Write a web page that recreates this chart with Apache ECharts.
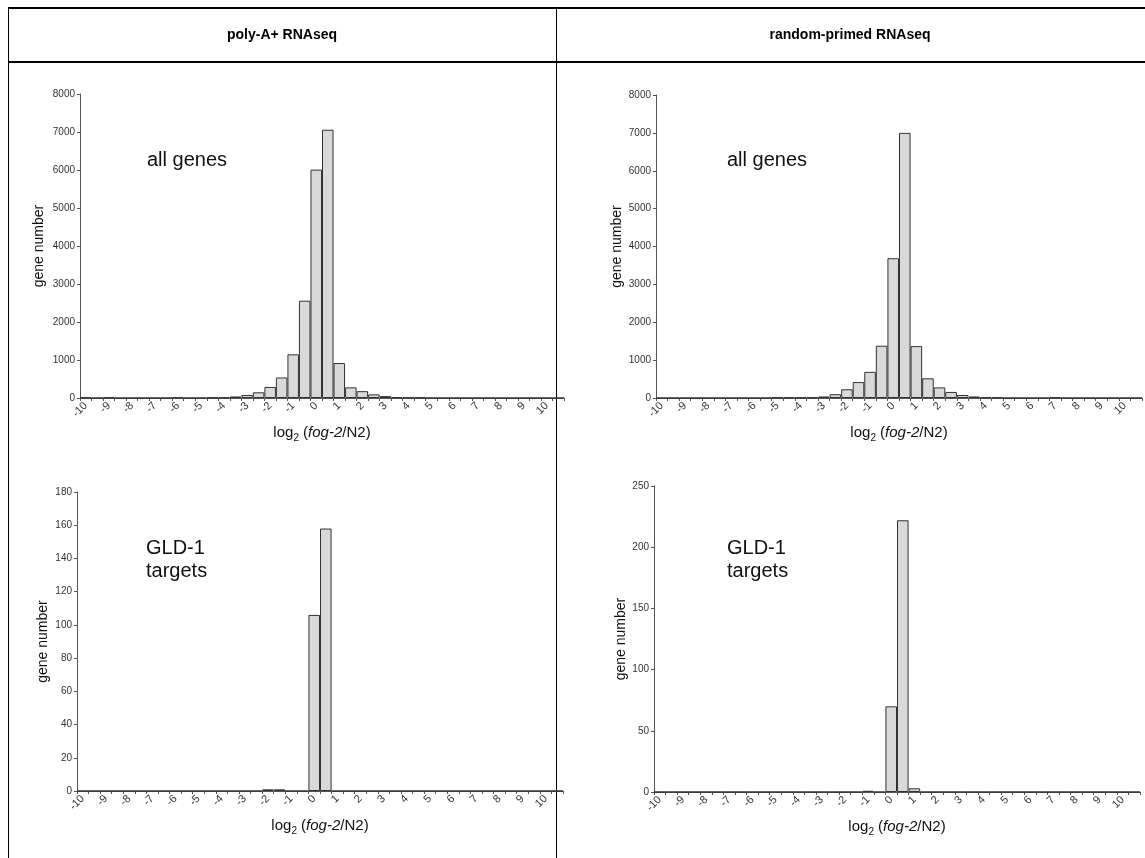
<!DOCTYPE html>
<html>
<head>
<meta charset="utf-8">
<script src="https://cdn.jsdelivr.net/npm/echarts@6/dist/echarts.min.js"></script>
<style>
html,body{margin:0;padding:0;background:#fff;}
#chart{width:1145px;height:858px;}
</style>
</head>
<body>
<div id="chart"></div>
<script>
// Histogram bins (Excel-style upper bin edges) + overflow bin
const binLabels = ['-10','-9.5','-9','-8.5','-8','-7.5','-7','-6.5','-6','-5.5','-5','-4.5','-4','-3.5','-3','-2.5','-2','-1.5','-1','-0.5','0','0.5','1','1.5','2','2.5','3','3.5','4','4.5','5','5.5','6','6.5','7','7.5','8','8.5','9','9.5','10','More'];

const polyAllGenes = [15,0,15,0,0,0,0,0,15,0,0,15,15,40,80,150,290,540,1150,2560,6010,7060,920,280,180,95,50,20,15,15,0,0,0,0,0,0,0,0,0,0,0,0];
const randomAllGenes = [0,0,0,0,0,0,0,0,0,0,15,15,15,15,40,100,230,420,690,1380,3690,7000,1370,520,280,160,80,40,20,15,0,0,0,0,20,0,0,0,0,0,0,0];
const polyGld1 = [0,0,0,0,0,0,0,0,0,0,0,0,0,0,0,0,1,1,0,0,106,158,0,0,0,0,0,0,0,0,0,0,0,0,0,0,0,0,0,0,0,0];
const randomGld1 = [0,0,0,0,0,0,0,0,0,0,0,0,0,0,0,0,0,0,1,0,70,222,3,0,0,0,0,0,0,0,0,0,0,0,0,0,0,0,0,0,0,0];

const headers = ['poly-A+ RNAseq', 'random-primed RNAseq'];
const yName = 'gene number';
const panelNotes = ['all genes', 'GLD-1\ntargets'];

const FONT = '"Liberation Sans", Arial, Helvetica, sans-serif';
const chart = echarts.init(document.getElementById('chart'), null, {renderer: 'canvas'});

const grids = [
  {left: 80, top: 94, width: 484, height: 304},
  {left: 656, top: 95, width: 486, height: 303},
  {left: 77, top: 492, width: 486, height: 299},
  {left: 654, top: 486, width: 486, height: 306}
];
const yMax = [8000, 8000, 180, 250];
const yInt = [1000, 1000, 20, 50];
const yGap = [34, 32, 27, 25];
const seriesData = [polyAllGenes, randomAllGenes, polyGld1, randomGld1];

const xAxes = grids.map((g, i) => ({
  type: 'category', gridIndex: i, data: binLabels,
  boundaryGap: true,
  axisLine: {show: true, lineStyle: {color: '#555', width: 1}},
  axisTick: {show: true, interval: 0, length: 3, lineStyle: {color: '#555'}},
  axisLabel: {interval: 1, rotate: 45, fontSize: 11, color: '#333', fontFamily: FONT, margin: 6},
  name: '{n|log}{s|2}{n| (}{i|fog-2}{n|/N2)}',
  nameLocation: 'middle', nameGap: 25,
  nameTextStyle: {
    rich: {
      n: {fontSize: 15, fontFamily: FONT, color: '#111', lineHeight: 20, verticalAlign: 'middle'},
      i: {fontSize: 15, fontFamily: FONT, fontStyle: 'italic', color: '#111', lineHeight: 20, verticalAlign: 'middle'},
      s: {fontSize: 10, fontFamily: FONT, color: '#111', lineHeight: 10, verticalAlign: 'bottom'}
    }
  },
  splitLine: {show: false}
}));

const yAxes = grids.map((g, i) => ({
  type: 'value', gridIndex: i, min: 0, max: yMax[i], interval: yInt[i],
  axisLine: {show: true, lineStyle: {color: '#555', width: 1}},
  axisTick: {show: true, length: 3, lineStyle: {color: '#555'}},
  axisLabel: {fontSize: 10, color: '#333', fontFamily: FONT, margin: 5, formatter: v => String(v)},
  splitLine: {show: false},
  name: yName, nameLocation: 'middle', nameRotate: 90, nameGap: yGap[i],
  nameTextStyle: {fontSize: 14, fontFamily: FONT, color: '#111'}
}));

const series = seriesData.map((d, i) => ({
  type: 'bar', xAxisIndex: i, yAxisIndex: i, data: d,
  barWidth: '100%', barCategoryGap: '0%',
  itemStyle: {color: '#d9d9d9', borderColor: '#333', borderWidth: 1},
  silent: true
}));

const noteStyle = {fontSize: 20, fontFamily: FONT, fill: '#111', lineHeight: 23};
const graphic = [
  // table frame
  {type: 'line', shape: {x1: 8, y1: 8, x2: 1145, y2: 8}, style: {stroke: '#000', lineWidth: 2}},
  {type: 'line', shape: {x1: 8, y1: 62, x2: 1145, y2: 62}, style: {stroke: '#000', lineWidth: 2}},
  {type: 'line', shape: {x1: 8.5, y1: 8, x2: 8.5, y2: 858}, style: {stroke: '#000', lineWidth: 1}},
  {type: 'line', shape: {x1: 556.5, y1: 8, x2: 556.5, y2: 858}, style: {stroke: '#000', lineWidth: 1}},
  {type: 'text', x: 282, y: 35, style: {text: headers[0], font: 'bold 14px ' + FONT, fill: '#000', align: 'center', verticalAlign: 'middle'}},
  {type: 'text', x: 850, y: 35, style: {text: headers[1], font: 'bold 14px ' + FONT, fill: '#000', align: 'center', verticalAlign: 'middle'}},
  {type: 'text', x: 147, y: 160, style: Object.assign({text: panelNotes[0], verticalAlign: 'middle'}, noteStyle)},
  {type: 'text', x: 727, y: 160, style: Object.assign({text: panelNotes[0], verticalAlign: 'middle'}, noteStyle)},
  {type: 'text', x: 146, y: 537, style: Object.assign({text: panelNotes[1], verticalAlign: 'top'}, noteStyle)},
  {type: 'text', x: 727, y: 537, style: Object.assign({text: panelNotes[1], verticalAlign: 'top'}, noteStyle)}
];

chart.setOption({
  animation: false,
  backgroundColor: '#fff',
  grid: grids,
  xAxis: xAxes,
  yAxis: yAxes,
  series: series,
  graphic: graphic
});
</script>
</body>
</html>
